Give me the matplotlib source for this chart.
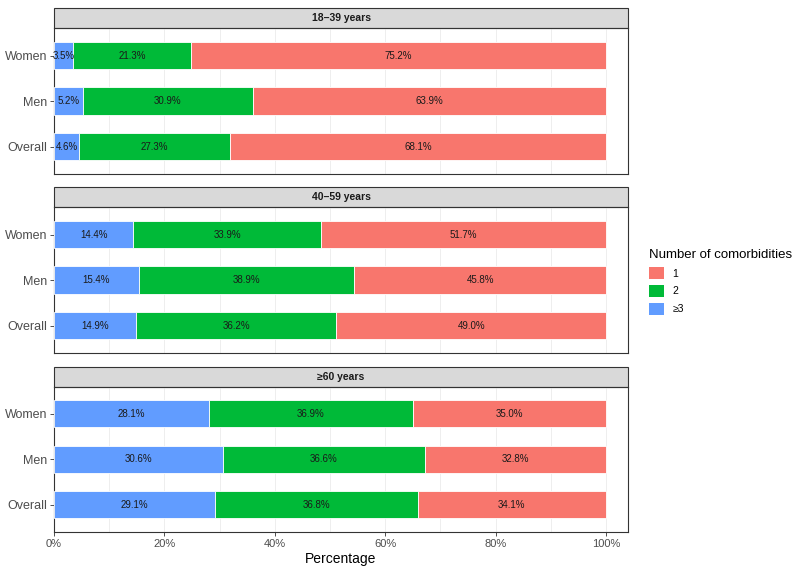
import numpy as np
import matplotlib
matplotlib.use('Agg')
import matplotlib.pyplot as plt
from matplotlib.patches import Rectangle, Patch

plt.rcParams['font.family'] = ['Liberation Sans', 'DejaVu Sans']

groups = ['Overall', 'Men', 'Women']
ages = ['18\u201339 years', '40\u201359 years', '\u226560 years']

# percentages per age panel, in the order of groups
three_plus = [[4.6, 5.2, 3.5], [14.9, 15.4, 14.4], [29.1, 30.6, 28.1]]
two = [[27.3, 30.9, 21.3], [36.2, 38.9, 33.9], [36.8, 36.6, 36.9]]
one = [[68.1, 63.9, 75.2], [49.0, 45.8, 51.7], [34.1, 32.8, 35.0]]

cats = ['1', '2', '\u22653']
colors = {'1': '#F8766D', '2': '#00BA38', '\u22653': '#619CFF'}

W, H = 797, 570
fig = plt.figure(figsize=(W / 100, H / 100), dpi=100)

left, right = 54, 628
tops = [28.3, 207.3, 386.5]
ph = 145.5
strip_h = 20

for i, age in enumerate(ages):
    ax = fig.add_axes([left / W, 1 - (tops[i] + ph) / H,
                       (right - left) / W, ph / H])
    y = np.arange(len(groups))
    segs = [('\u22653', three_plus[i]), ('2', two[i]), ('1', one[i])]
    start = np.zeros(len(groups))
    for name, vals in segs:
        vals = np.array(vals)
        ax.barh(y, vals, left=start, height=0.6, color=colors[name],
                edgecolor='white', linewidth=0.6, zorder=3)
        for yy, s, v in zip(y, start, vals):
            ax.text(s + v / 2, yy, '{:.1f}%'.format(v), ha='center',
                    va='center', fontsize=7, color='#1a1a1a', zorder=4)
        start = start + vals

    ax.set_xlim(0, 104)
    ax.set_ylim(-0.6, 2.6)
    ax.set_yticks(y)
    ax.set_yticklabels(groups, fontsize=9, color='#4d4d4d')
    ax.set_xticks([0, 20, 40, 60, 80, 100])
    ax.set_xticks([10, 30, 50, 70, 90], minor=True)
    ax.grid(True, axis='x', which='both', color='#ebebeb', linewidth=0.6,
            zorder=0)
    ax.tick_params(axis='y', length=3, color='#333333', width=0.6, pad=2)
    ax.tick_params(axis='x', which='minor', length=0)
    if i == 2:
        ax.set_xticklabels(['0%', '20%', '40%', '60%', '80%', '100%'],
                           fontsize=8, color='#4d4d4d')
        ax.tick_params(axis='x', length=3, color='#333333', width=0.6, pad=2)
        ax.set_xlabel('Percentage', fontsize=10, labelpad=2)
    else:
        ax.tick_params(axis='x', length=0, labelbottom=False)
    for sp in ax.spines.values():
        sp.set_color('#333333')
        sp.set_linewidth(0.8)

    # facet strip
    sh = strip_h / ph
    ax.add_patch(Rectangle((0, 1), 1, sh, transform=ax.transAxes,
                           facecolor='#d9d9d9', edgecolor='#333333',
                           linewidth=0.8, clip_on=False))
    ax.text(0.5, 1 + sh / 2, age, transform=ax.transAxes, ha='center',
            va='center', fontsize=7.5, fontweight='bold', color='#1a1a1a')

handles = [Patch(facecolor=colors[c], edgecolor='none') for c in cats]
fig.legend(handles, cats, title='Number of comorbidities',
           loc='upper left', bbox_to_anchor=(640 / W, 1 - 240 / H),
           frameon=False, fontsize=7.5, title_fontsize=9.5,
           handlelength=1.4, handleheight=1.4, handletextpad=0.8,
           labelspacing=0.55, alignment='left')

fig.savefig('out.png', dpi=100)
